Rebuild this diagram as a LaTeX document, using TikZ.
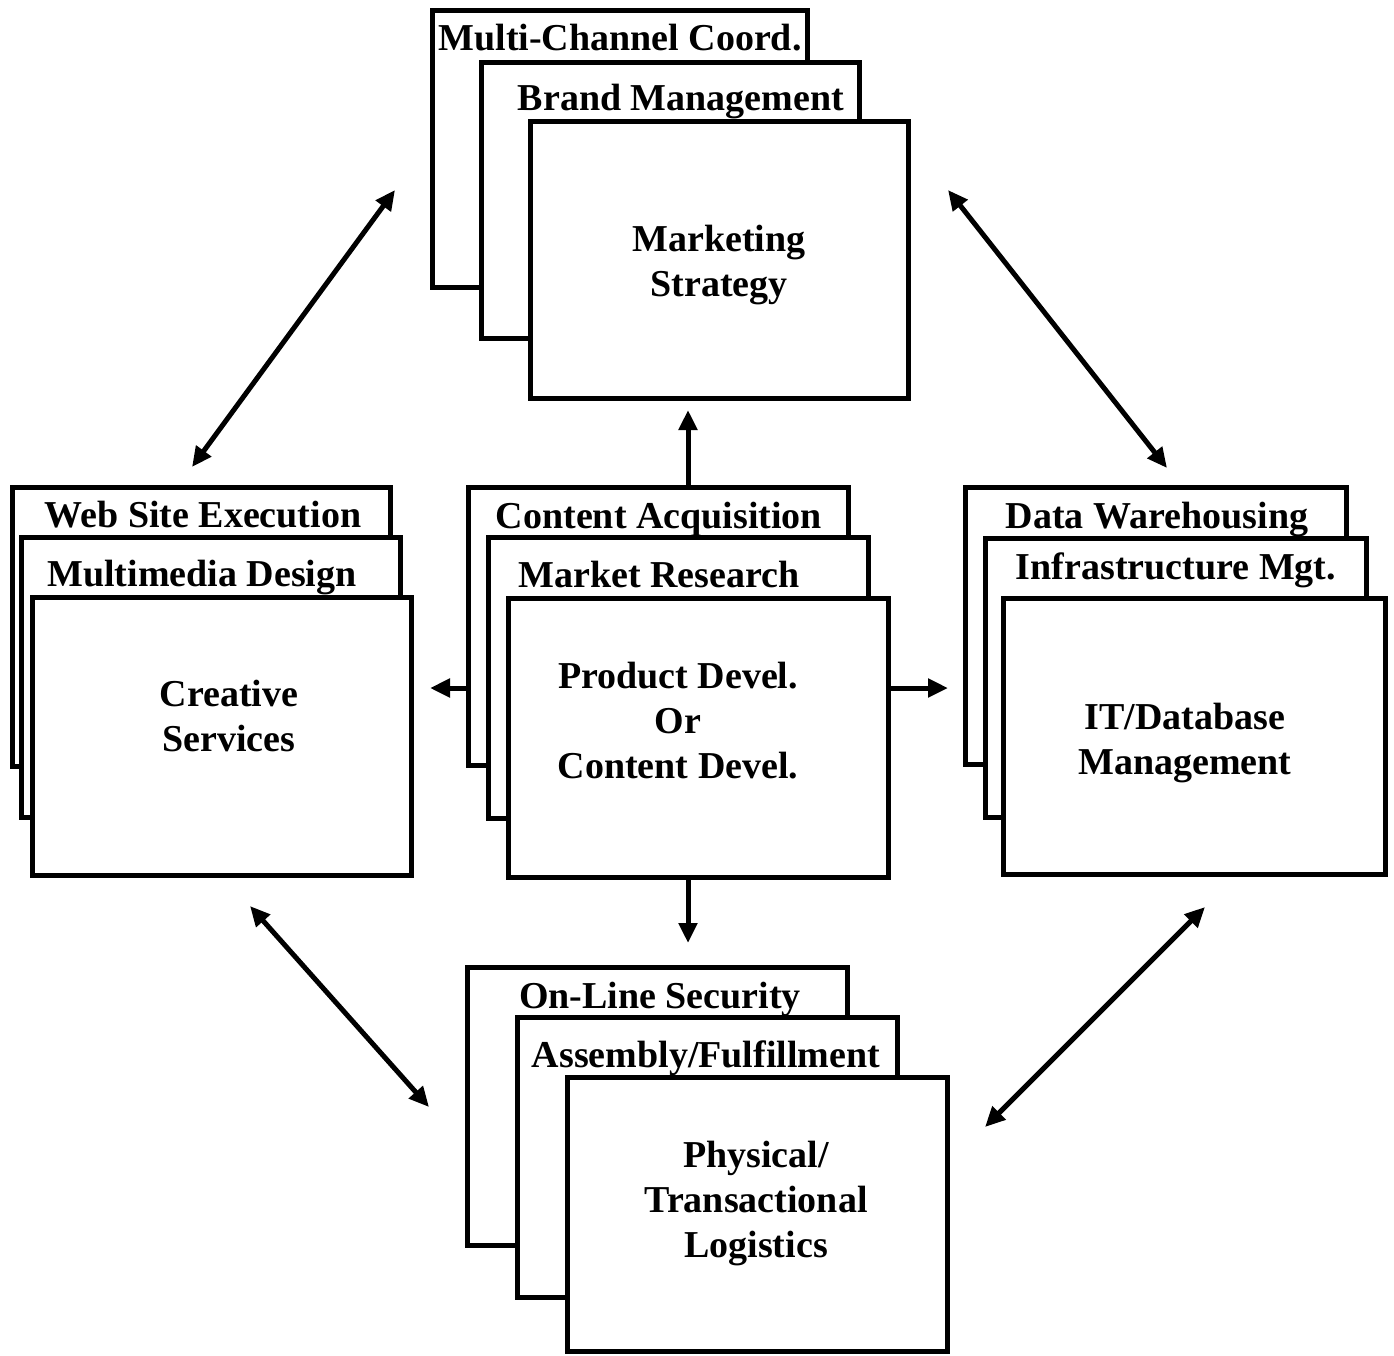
\documentclass[tikz,border=0pt]{standalone}
\usepackage{fontspec}
\setmainfont{Liberation Serif}
\usetikzlibrary{arrows.meta}

\tikzset{
  card/.style={draw, line width=5pt, fill=white, inner sep=0pt, outer sep=0pt, anchor=north west},
  tag/.style={font=\bfseries\fontsize{38}{45}\selectfont, inner sep=0pt, anchor=base},
  body/.style={font=\bfseries\fontsize{38}{45}\selectfont, inner sep=0pt, align=center, anchor=north},
  link/.style={line width=5pt, -{Triangle[length=20pt,width=18pt]}},
  dlink/.style={line width=5pt, {Triangle[length=20pt,width=18pt]}-{Triangle[length=20pt,width=18pt]}},
}

\begin{document}
\begin{tikzpicture}[x=1pt, y=-1pt]
\useasboundingbox (0,0) rectangle (1394,1355);
\fill[white] (0,0) rectangle (1394,1355);

% ---- top group
\node[card, minimum width=375pt, minimum height=277pt] (mcc) at (432,10) {};
\node[tag] (mccT) at (620,50) {Multi-Channel Coord.};
\node[card, minimum width=378pt, minimum height=276pt] (bm) at (481,62) {};
\node[tag] (bmT) at (681,110) {Brand Management};
\node[card, minimum width=378pt, minimum height=277pt] (ms) at (530,121) {};
\node[body] (msT) at (719,225) {Marketing\\Strategy};

% ---- left group
\node[card, minimum width=378pt, minimum height=279pt] (wse) at (12,487) {};
\node[tag] (wseT) at (203,527) {Web Site Execution};
\node[card, minimum width=379pt, minimum height=280pt] (mmd) at (21,537) {};
\node[tag] (mmdT) at (202,586) {Multimedia Design};
\node[card, minimum width=379pt, minimum height=278pt] (cs) at (32,597) {};
\node[body] (csT) at (229,680) {Creative\\Services};

% ---- centre group
\node[card, minimum width=380pt, minimum height=278pt] (ca) at (468,487) {};
\node[tag] (caT) at (659,528) {Content Acquisition};
\node[card, minimum width=380pt, minimum height=281pt] (mr) at (488,537) {};
\node[tag] (mrT) at (659,587) {Market Research};
\node[card, minimum width=380pt, minimum height=279pt] (pd) at (508,598) {};
\node[body] (pdT) at (678,662) {Product Devel.\\Or\\Content Devel.};

% ---- right group
\node[card, minimum width=381pt, minimum height=277pt] (dw) at (965,487) {};
\node[tag] (dwT) at (1157,528) {Data Warehousing};
\node[card, minimum width=381pt, minimum height=279pt] (im) at (985,538) {};
\node[tag] (imT) at (1176,579) {Infrastructure Mgt.};
\node[card, minimum width=382pt, minimum height=276pt] (it) at (1003,598) {};
\node[body] (itT) at (1185,703) {IT/Database\\Management};

% ---- bottom group
\node[card, minimum width=380pt, minimum height=278pt] (ols) at (467,967) {};
\node[tag] (olsT) at (660,1008) {On-Line Security};
\node[card, minimum width=380pt, minimum height=280pt] (af) at (517,1017) {};
\node[tag] (afT) at (706,1067) {Assembly/Fulfillment};
\node[card, minimum width=380pt, minimum height=274pt] (ptl) at (567,1077) {};
\node[body] (ptlT) at (756,1141) {Physical/\\Transactional\\Logistics};

% ---- arrows out of the centre group
\coordinate (upTip) at (688,410);
\coordinate (leftTip) at (430,688);
\coordinate (rightTip) at (948,688);
\coordinate (downTip) at (688,943);
\draw[link] (ca.north -| upTip) -- (upTip);
\draw[link] (ca.west |- leftTip) -- (leftTip);
\draw[link] (pd.east |- rightTip) -- (rightTip);
\draw[link] (pd.south -| downTip) -- (downTip);

% ---- two-way arrows round the ring
\coordinate (nwA) at (395,190);  \coordinate (nwB) at (192,467);
\coordinate (neA) at (948,190);  \coordinate (neB) at (1167,468);
\coordinate (swA) at (250,906);  \coordinate (swB) at (429,1107);
\coordinate (seA) at (1205,907); \coordinate (seB) at (985,1127);
\draw[dlink] (nwA) -- (nwB);
\draw[dlink] (neA) -- (neB);
\draw[dlink] (swA) -- (swB);
\draw[dlink] (seA) -- (seB);
\end{tikzpicture}
\end{document}
